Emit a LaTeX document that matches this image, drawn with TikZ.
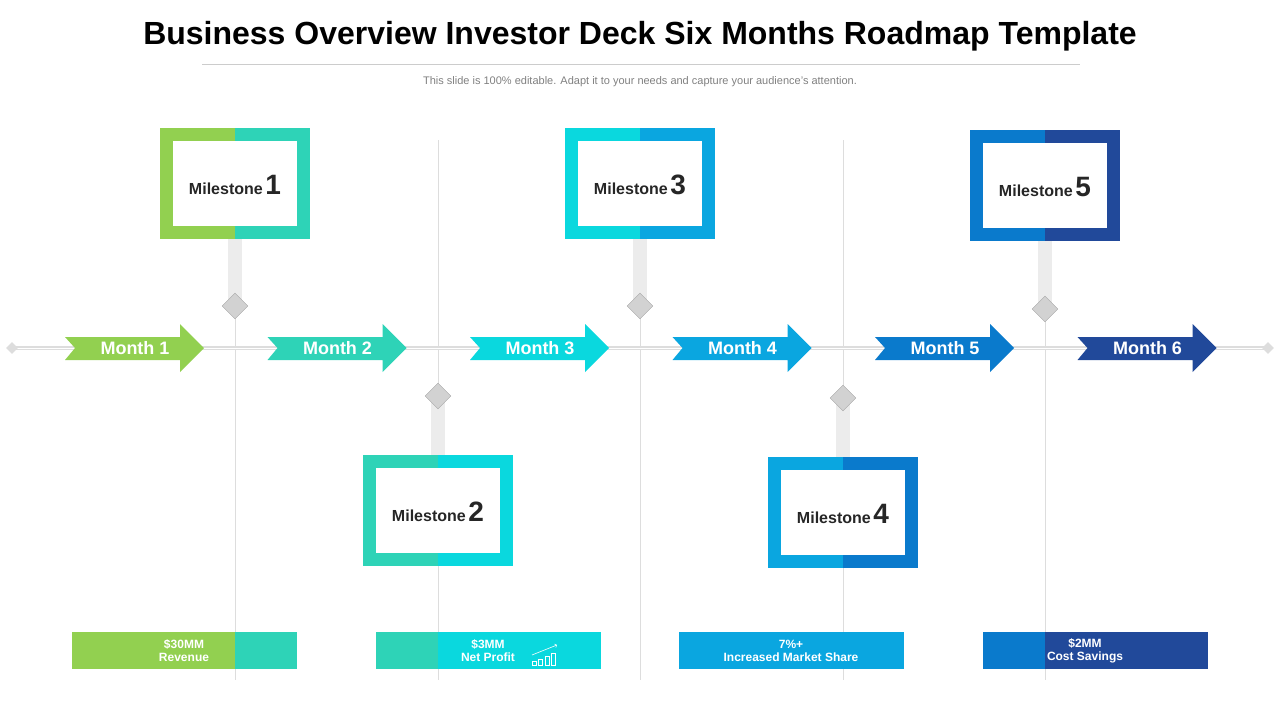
\documentclass[tikz,border=0pt]{standalone}
\usepackage{fontspec}
\setmainfont{Liberation Sans}
\usetikzlibrary{positioning,shapes.geometric}
\definecolor{cgreen}{HTML}{92D050}
\definecolor{cteal}{HTML}{2ED3B7}
\definecolor{ccyan}{HTML}{0AD8DE}
\definecolor{clight}{HTML}{0AA6E0}
\definecolor{cblue}{HTML}{0A7ACC}
\definecolor{cnavy}{HTML}{21499A}
\definecolor{cgrid}{HTML}{DDDDDD}
\tikzset{
  monthlbl/.style={text=white,font=\bfseries\fontsize{18}{18}\selectfont},
  barlbl/.style={text=white,font=\bfseries\fontsize{12}{13}\selectfont,align=center},
  mslbl/.style={font=\bfseries\fontsize{16}{16}\selectfont,text=black!85},
  dia/.style={diamond,draw=gray!70,fill=gray!35,minimum size=26pt,inner sep=0pt},
}
\begin{document}
\begin{tikzpicture}[x=1pt,y=-1pt]
  \useasboundingbox (0,0) rectangle (1280,720);
  \node[font=\bfseries\fontsize{32}{32}\selectfont] (title) at (640,36) {Business Overview Investor Deck Six Months Roadmap Template};
  \draw[gray!40] (202,64) -- (1080,64);
  \node[text=gray,font=\fontsize{11}{11}\selectfont] (sub) at (640,82) {This slide is 100\% editable. Adapt it to your needs and capture your audience's attention.};

  % vertical guides
  \foreach \x in {235,438,640,843,1045}
    \draw[cgrid] (\x,140) -- (\x,680);

  % timeline
  \draw[cgrid,line width=4pt] (12,348) -- (1268,348);
  \draw[white,line width=1pt] (12,348) -- (1268,348);
  \node[diamond,fill=cgrid,minimum size=12pt,inner sep=0pt] (tl) at (12,348) {};
  \node[diamond,fill=cgrid,minimum size=12pt,inner sep=0pt] (tr) at (1268,348) {};

  % month arrows
  \foreach \i/\c in {1/cgreen,2/cteal,3/ccyan,4/clight,5/cblue,6/cnavy} {
      \pgfmathsetmacro{\x}{65+202.5*(\i-1)}
      \fill[\c] (\x,337) -- (\x+115,337) -- (\x+115,324) -- (\x+139,348) -- (\x+115,372)
        -- (\x+115,360) -- (\x,360) -- (\x+10,348) -- cycle;
      \node[monthlbl] (m\i) at (\x+70,348) {Month \i};
    }

  % milestones
  \foreach \n/\x/\yt/\yd/\ca/\cb in {1/235/128/306/cgreen/cteal,2/438/455/396/cteal/ccyan,
      3/640/128/306/ccyan/clight,4/843/457/398/clight/cblue,5/1045/130/309/cblue/cnavy} {
      \pgfmathsetmacro{\yb}{\yt+111}
      \ifnum\n=2 \fill[gray!15] (\x-7,\yd) rectangle (\x+7,\yt); \else
      \ifnum\n=4 \fill[gray!15] (\x-7,\yd) rectangle (\x+7,\yt); \else
      \fill[gray!15] (\x-7,\yb) rectangle (\x+7,\yd); \fi\fi
      \fill[\ca] (\x-75,\yt) rectangle (\x,\yb);
      \fill[\cb] (\x,\yt) rectangle (\x+75,\yb);
      \fill[white] (\x-62,\yt+13) rectangle (\x+62,\yb-13);
      \node[mslbl] (ms\n) at (\x,\yt+57) {Milestone\,{\fontsize{28}{28}\selectfont\n}};
      \node[dia] (d\n) at (\x,\yd) {};
    }

  % bottom bars
  \foreach \xa/\xm/\xb/\ca/\cb in {72/235/297/cgreen/cteal,376/438/601/cteal/ccyan,
      679/843/904/clight/clight,983/1045/1208/cblue/cnavy} {
      \fill[\ca] (\xa,632) rectangle (\xm,669);
      \fill[\cb] (\xm,632) rectangle (\xb,669);
    }
  \node[barlbl] (b1) at (184,651) {\$30MM\\Revenue};
  \node[barlbl] (b2) at (488,651) {\$3MM\\Net Profit};
  \node[barlbl] (b3) at (791,651) {7\%+\\Increased Market Share};
  \node[barlbl] (b4) at (1085,651) {\$2MM\\Cost Savings};
  \begin{scope}[white,line width=0.6pt]
    \foreach \i/\h in {0/4,1/6,2/9,3/12}
      \draw (532+\i*6.5,665) rectangle ++(4,-\h);
    \draw[->] (532,655) -- (557,645);
  \end{scope}
\end{tikzpicture}
\end{document}
